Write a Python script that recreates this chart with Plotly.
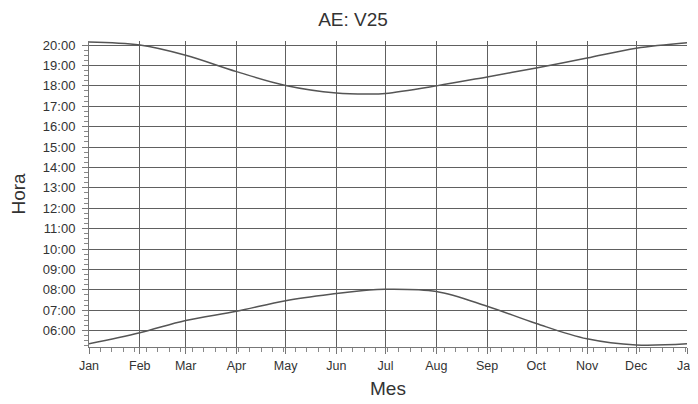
import plotly.graph_objects as go

dates = ["2023-01-01", "2023-02-01", "2023-03-01", "2023-04-01", "2023-05-01",
         "2023-06-01", "2023-06-21", "2023-07-01", "2023-08-01", "2023-09-01",
         "2023-10-01", "2023-11-01", "2023-12-01", "2024-01-01"]
sunset = [20.15, 20.0, 19.5, 18.7, 18.02, 17.65, 17.6, 17.63, 18.0, 18.44,
          18.88, 19.37, 19.85, 20.12]
sunrise = [5.36, 5.9, 6.5, 6.95, 7.47, 7.82, 8.0, 8.03, 7.92, 7.2,
           6.35, 5.6, 5.3, 5.36]

hour_vals = list(range(6, 21))
hour_text = [f"{h:02d}:00" for h in hour_vals]

fig = go.Figure()
for ys in (sunset, sunrise):
    fig.add_trace(go.Scatter(x=dates, y=ys, mode="lines",
                             line=dict(color="#555555", width=1.5, shape="spline"),
                             showlegend=False, hoverinfo="skip"))

# The page body has a default 8px margin, so the figure is sized to fit the
# 698x404 window after that offset.
font_family = "Liberation Sans, Arial, sans-serif"
fig.update_layout(
    template="none",
    width=690, height=396,
    margin=dict(l=81, r=11, t=33, b=57),
    paper_bgcolor="white", plot_bgcolor="white",
    font=dict(family=font_family, color="#333333", size=13),
    title=dict(text="AE: V25", x=0.5, xref="container", xanchor="center",
               y=1 - 11 / 396, yref="container", yanchor="middle",
               font=dict(size=19, color="#333333")),
    xaxis=dict(type="date", range=["2023-01-01", "2024-01-01"],
               tick0="2023-01-01", dtick="M1", tickformat="%b",
               automargin=False, ticklabelstandoff=1,
               showgrid=True, gridcolor="#606060", gridwidth=1.3,
               showline=True, linecolor="#777777", linewidth=1,
               ticks="outside", ticklen=6, tickcolor="#777777",
               tickfont=dict(size=12.5, color="#333333"),
               minor=dict(dtick=7 * 86400000, tick0="2023-01-01",
                          ticks="outside", ticklen=4, tickcolor="#888888",
                          showgrid=False),
               zeroline=False,
               title=dict(text="Mes", font=dict(size=19, color="#333333"), standoff=9)),
    yaxis=dict(range=[5.2, 20.2], tickvals=hour_vals, ticktext=hour_text,
               automargin=False, ticklabelstandoff=4,
               showgrid=True, gridcolor="#606060", gridwidth=1.3,
               showline=True, linecolor="#777777", linewidth=1,
               ticks="outside", ticklen=6, tickcolor="#777777",
               tickfont=dict(size=13, color="#333333"),
               minor=dict(dtick=0.25, tick0=0, ticks="outside", ticklen=4,
                          tickcolor="#888888", showgrid=False),
               zeroline=False,
               title=dict(text="Hora", font=dict(size=19, color="#333333"), standoff=13)),
)

fig.write_html("out.html")
